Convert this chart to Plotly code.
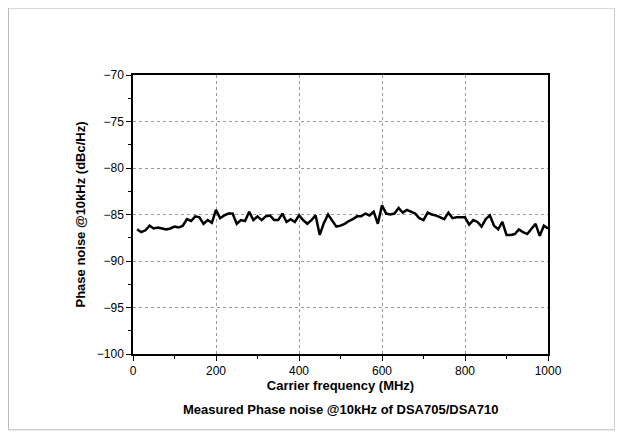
import plotly.graph_objects as go

freq = list(range(10, 1001, 10))
noise = [-86.6, -86.9, -86.7, -86.2, -86.5, -86.4, -86.5, -86.6, -86.5, -86.3,
         -86.4, -86.2, -85.5, -85.7, -85.2, -85.3, -86.0, -85.6, -85.9, -84.5,
         -85.4, -85.1, -84.9, -84.9, -86.0, -85.6, -85.7, -84.7, -85.6, -85.2,
         -85.6, -85.2, -85.1, -85.6, -85.6, -84.9, -85.8, -85.5, -85.8, -85.1,
         -85.6, -86.0, -85.6, -85.1, -87.2, -85.9, -85.0, -85.7, -86.3, -86.2,
         -86.0, -85.7, -85.5, -85.2, -85.2, -84.9, -85.1, -84.7, -86.0, -84.0,
         -84.9, -85.0, -84.9, -84.3, -84.8, -84.5, -84.7, -84.9, -85.4, -85.6,
         -84.8, -85.0, -85.1, -85.3, -85.5, -84.8, -85.4, -85.3, -85.3, -85.3,
         -86.1, -85.6, -85.8, -86.3, -85.5, -85.1, -86.2, -86.6, -85.8, -87.2,
         -87.2, -87.1, -86.6, -86.9, -87.1, -86.6, -86.0, -87.3, -86.2, -86.5]

fig = go.Figure(go.Scatter(x=freq, y=noise, mode="lines",
                           line=dict(color="black", width=2.5)))

axis = dict(showline=True, linecolor="black", linewidth=1.5, mirror=True,
            ticks="outside", ticklen=5, tickcolor="black",
            showgrid=True, gridcolor="#999", griddash="dot", gridwidth=1,
            zeroline=False, tickfont=dict(family="Arial", size=12, color="black"),
            minor=dict(ticks="outside", ticklen=3, tickcolor="black"))

fig.update_xaxes(range=[0, 1000], dtick=200, minor_dtick=100,
                 title=dict(text="<b>Carrier frequency (MHz)</b>", standoff=2,
                            font=dict(family="Arial", size=13, color="black")), **axis)
fig.update_yaxes(range=[-100, -70], dtick=5, minor_dtick=2.5,
                 title=dict(text="<b>Phase noise @10kHz (dBc/Hz)</b>", standoff=8,
                            font=dict(family="Arial", size=13, color="black")), **axis)

fig.add_annotation(text="<b>Measured Phase noise @10kHz of DSA705/DSA710</b>",
                   xref="paper", yref="paper", x=0.5, y=-0.2, yanchor="middle",
                   showarrow=False, font=dict(family="Arial", size=13, color="black"))
fig.add_shape(type="rect", xref="paper", yref="paper", x0=-0.30, x1=1.161, y0=-0.272, y1=1.24,
              line=dict(color="#bbb", width=1))

fig.update_layout(width=623, height=438, plot_bgcolor="white", paper_bgcolor="white",
                  showlegend=False, margin=dict(l=125, r=83, t=67, b=92))
fig.write_html("out.html")
